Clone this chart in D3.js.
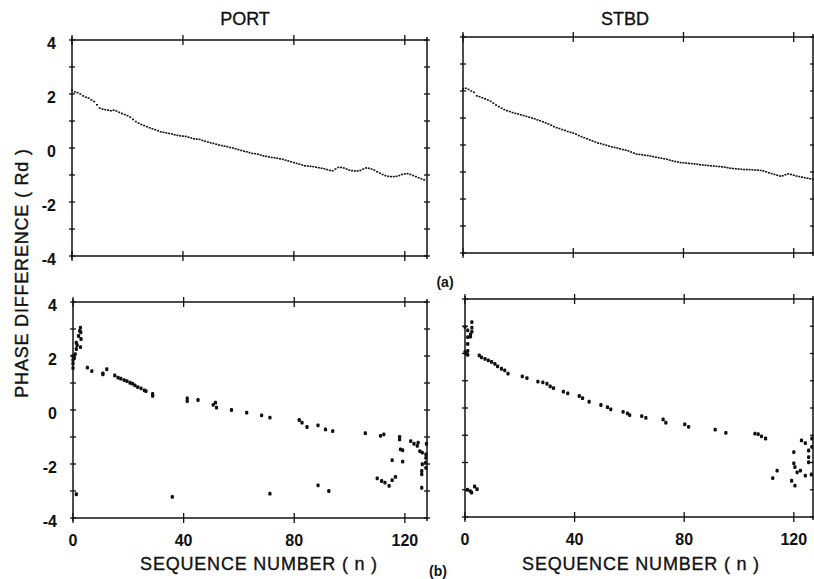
<!DOCTYPE html>
<html><head><meta charset="utf-8">
<script src="https://cdn.jsdelivr.net/npm/d3@7"></script>
<style>
body{margin:0;background:#fff;}
text{font-family:"Liberation Sans",Arial,sans-serif;fill:#111;}
</style></head>
<body><svg id="c" width="814" height="579"></svg>
<script>
// ---------- DATA ----------
const panelTitles = ["PORT", "STBD"];
const xTicks = [0, 40, 80, 120];
const yTickLabels = [4, 2, 0, -2, -4];
const yMinorTicks = [4, 3, 2, 1, 0, -1, -2, -3, -4];
const xAxisTitle = "SEQUENCE NUMBER ( n )";
const yAxisTitle = "PHASE DIFFERENCE ( Rd )";

// (a) smoothed phase difference, n = 0..127
const portSmooth = [2.15,2.08,2.05,2.00,1.93,1.88,1.85,1.78,1.72,1.60,1.48,1.44,1.42,1.40,1.38,1.40,1.37,1.32,1.28,1.24,
1.20,1.14,1.06,0.98,0.92,0.87,0.83,0.79,0.75,0.71,0.68,0.64,0.60,0.58,0.56,0.54,0.52,0.49,0.47,0.45,
0.44,0.43,0.40,0.37,0.34,0.33,0.32,0.28,0.25,0.22,0.19,0.17,0.14,0.11,0.09,0.07,0.05,0.02,0.00,-0.03,
-0.06,-0.09,-0.12,-0.14,-0.17,-0.20,-0.21,-0.23,-0.26,-0.29,-0.31,-0.33,-0.35,-0.36,-0.38,-0.40,-0.42,-0.45,-0.48,-0.51,
-0.54,-0.57,-0.60,-0.63,-0.66,-0.67,-0.68,-0.69,-0.71,-0.73,-0.75,-0.77,-0.80,-0.83,-0.84,-0.78,-0.72,-0.72,-0.74,-0.78,
-0.82,-0.84,-0.85,-0.85,-0.83,-0.78,-0.74,-0.75,-0.78,-0.82,-0.88,-0.93,-0.98,-1.02,-1.05,-1.06,-1.06,-1.05,-1.02,-0.98,
-0.96,-0.95,-0.98,-1.02,-1.06,-1.10,-1.14,-1.18];
const stbdSmooth = [2.08,2.10,2.06,2.00,1.95,1.82,1.79,1.75,1.71,1.67,1.62,1.55,1.48,1.42,1.36,1.31,1.27,1.24,1.20,1.17,
1.15,1.12,1.09,1.06,1.03,1.00,0.97,0.93,0.90,0.86,0.82,0.78,0.73,0.68,0.64,0.61,0.57,0.54,0.50,0.47,
0.44,0.40,0.35,0.31,0.27,0.23,0.19,0.15,0.11,0.07,0.05,0.02,-0.01,-0.04,-0.07,-0.09,-0.11,-0.14,-0.17,-0.19,
-0.22,-0.26,-0.30,-0.34,-0.35,-0.36,-0.38,-0.39,-0.41,-0.43,-0.45,-0.47,-0.49,-0.51,-0.53,-0.56,-0.59,-0.61,-0.63,-0.65,
-0.66,-0.67,-0.68,-0.69,-0.70,-0.71,-0.73,-0.74,-0.75,-0.76,-0.77,-0.78,-0.79,-0.80,-0.81,-0.82,-0.84,-0.86,-0.87,-0.88,
-0.89,-0.90,-0.91,-0.91,-0.91,-0.92,-0.93,-0.93,-0.94,-0.96,-0.99,-1.03,-1.06,-1.09,-1.12,-1.15,-1.14,-1.10,-1.07,-1.09,
-1.12,-1.15,-1.17,-1.19,-1.21,-1.23,-1.25,-1.27];

// (b) raw phase difference estimates: sequence numbers and values
const portRawN = [0,0,0,0,0.5,0.8,1.2,1.2,1.5,2,2.4,2.7,2.8,2.9,2.7,1.2,
5.2,6.8,10.8,10.8,12.2,15.1,16.3,17.3,18.5,19.5,20.6,21.5,22.4,23.4,24.6,25.8,26.4,28.8,28.8,
41.3,41.3,45.2,50.7,51.5,51.9,57.3,62.8,68.2,71.2,81.8,82.8,84.6,88.6,91.3,93.9,
105.7,111.2,112.4,118.1,118.1,122.1,123.3,124.8,124.5,125.4,126.3,127.6,127.6,127.8,118.4,119.2,
115.4,119.2,126.3,127.6,126.1,126.1,126.1,110,111.6,112.8,114.3,115.4,116.6,88.6,92.5,71.2,35.9,127.5];
const portRawV = [1.55,1.72,1.85,2.00,1.92,2.07,2.49,2.26,2.40,2.74,2.93,3.05,2.88,2.63,2.33,-3.12,
1.57,1.44,1.32,1.36,1.51,1.28,1.20,1.16,1.11,1.07,1.01,0.98,0.91,0.85,0.80,0.73,0.70,0.60,0.52,
0.43,0.33,0.37,0.19,0.27,0.09,0.00,-0.10,-0.20,-0.28,-0.37,-0.47,-0.63,-0.57,-0.72,-0.78,
-0.86,-0.96,-0.90,-1.00,-1.09,-1.15,-1.25,-1.21,-1.33,-1.52,-1.58,-1.64,-1.77,-1.25,-1.46,-1.49,
-1.86,-1.91,-2.01,-2.14,-2.26,-2.38,-2.88,-2.53,-2.63,-2.69,-2.81,-2.60,-2.48,-2.79,-3.00,-3.10,-3.22,-1.95];

const stbdRawN = [0,0,0.5,1,1,1,1,1,2,2,2.5,2.5,2.5,0.9,1.9,2.4,3.5,4.4,
5.2,6.0,7.3,8.5,9.7,10.9,11.9,13.3,14.5,15.7,20.9,22.6,26.6,28.4,29.9,31.1,32.3,35.9,37.5,
41.7,42.9,45.3,49.6,52,53.2,57.7,59.3,60.1,64.5,66,72.3,73.3,80.2,81.6,91.3,95.2,
105.8,107,108.2,109.7,112.3,113.9,120,120,120.4,121.2,119.2,120.4,122.4,124.2,122.8,124.2,
125.4,125.4,125.4,126.6,126.6,126.4];
const stbdRawV = [2.98,2.05,2.00,2.85,2.60,2.35,2.10,1.95,2.70,2.62,2.95,3.15,2.80,-3.00,-3.05,-3.10,-2.88,-2.98,
1.93,1.86,1.80,1.75,1.69,1.62,1.53,1.44,1.38,1.26,1.16,1.10,0.97,0.94,0.89,0.79,0.73,0.60,0.54,
0.44,0.36,0.23,0.11,0.03,-0.05,-0.14,-0.20,-0.26,-0.30,-0.36,-0.42,-0.54,-0.60,-0.69,-0.79,-0.91,
-0.94,-0.96,-1.04,-1.12,-2.57,-2.30,-1.62,-2.03,-2.17,-2.36,-2.67,-2.85,-2.30,-2.48,-1.19,-1.29,
-1.56,-1.80,-1.99,-1.12,-1.43,-2.44];

// ---------- LAYOUT ----------
const svg = d3.select("#c");
const panels = [
  {x0:72,  x1:427, y0:40,  y1:256, xmax:128, kind:"line",    vals:portSmooth, leftLabels:true,  bottomLabels:false, tcx:0},
  {x0:463, x1:813, y0:37,  y1:253, xmax:127, kind:"line",    vals:stbdSmooth, leftLabels:false, bottomLabels:false, tcx:0},
  {x0:73,  x1:427, y0:302, y1:518, xmax:128, kind:"scatter", ns:portRawN, vs:portRawV, leftLabels:true,  bottomLabels:true, tcx:259},
  {x0:465, x1:813, y0:299, y1:517, xmax:127, kind:"scatter", ns:stbdRawN, vs:stbdRawV, leftLabels:false, bottomLabels:true, tcx:641}
];

panels.forEach(p => {
  const x = d3.scaleLinear().domain([0, p.xmax]).range([p.x0, p.x1]);
  const y = d3.scaleLinear().domain([-4, 4]).range([p.y1, p.y0]);
  const g = svg.append("g");

  const line = (a,b,c,d,w) => g.append("line").attr("x1",a).attr("y1",b).attr("x2",c).attr("y2",d)
      .attr("stroke","#111").attr("stroke-width",w||1.5);
  line(p.x0-1, p.y0, p.x1+1, p.y0);
  line(p.x0-1, p.y1, p.x1+1, p.y1);
  line(p.x0, p.y0-3, p.x0, p.y1+3);
  line(p.x1, p.y0-3, p.x1, p.y1+3);

  xTicks.forEach(t => {
    line(x(t), p.y0-5, x(t), p.y0+5, 1.3);
    line(x(t), p.y1-5, x(t), p.y1+5, 1.3);
  });
  yMinorTicks.forEach(t => {
    line(p.x0-3, y(t), p.x0+3, y(t), 1.3);
    line(p.x1-3, y(t), p.x1+3, y(t), 1.3);
  });

  if (p.leftLabels) {
    g.selectAll("text.yl").data(yTickLabels).enter().append("text")
      .attr("x", p.x0-16).attr("y", d => y(d)+9)
      .attr("text-anchor","end").attr("font-size",16).attr("font-weight","bold")
      .text(d => d);
  }
  if (p.bottomLabels) {
    g.selectAll("text.xl").data(xTicks).enter().append("text")
      .attr("x", d => x(d)).attr("y", p.y1+28)
      .attr("text-anchor","middle").attr("font-size",16).attr("font-weight","bold")
      .text(d => d);
    g.append("text").attr("x", p.tcx).attr("y", 570)
      .attr("text-anchor","middle").attr("font-size",18).attr("letter-spacing",0.8)
      .attr("stroke","#111").attr("stroke-width",0.35)
      .text(xAxisTitle);
  }

  if (p.kind === "line") {
    g.selectAll("rect.d").data(p.vals).enter().append("rect")
      .attr("x", (d,i) => x(i)-1).attr("y", d => y(d)-0.8)
      .attr("width", 2).attr("height", 1.6).attr("fill","#111");
  } else {
    g.selectAll("rect.d").data(p.ns).enter().append("rect")
      .attr("x", d => x(d)-1.6).attr("y", (d,i) => y(p.vs[i])-1.9)
      .attr("width", 3.2).attr("height", 3.8).attr("rx",1.2).attr("fill","#111");
  }
});

// titles
svg.append("text").attr("x", 245).attr("y", 25).attr("text-anchor","middle")
  .attr("font-size",18).attr("stroke","#111").attr("stroke-width",0.35).text(panelTitles[0]);
svg.append("text").attr("x", 625).attr("y", 25).attr("text-anchor","middle")
  .attr("font-size",18).attr("stroke","#111").attr("stroke-width",0.35).text(panelTitles[1]);

// y axis title
svg.append("text").attr("transform","translate(28,273) rotate(-90)")
  .attr("text-anchor","middle").attr("font-size",18).attr("letter-spacing",0.8)
  .attr("stroke","#111").attr("stroke-width",0.35)
  .text(yAxisTitle);

// (a) / (b)
svg.append("text").attr("x",445).attr("y",287).attr("text-anchor","middle")
  .attr("font-family","'Liberation Serif',serif").attr("font-weight","bold").attr("font-size",14).text("(a)");
svg.append("text").attr("x",438).attr("y",576).attr("text-anchor","middle")
  .attr("font-family","'Liberation Serif',serif").attr("font-weight","bold").attr("font-size",14).text("(b)");
</script></body></html>
